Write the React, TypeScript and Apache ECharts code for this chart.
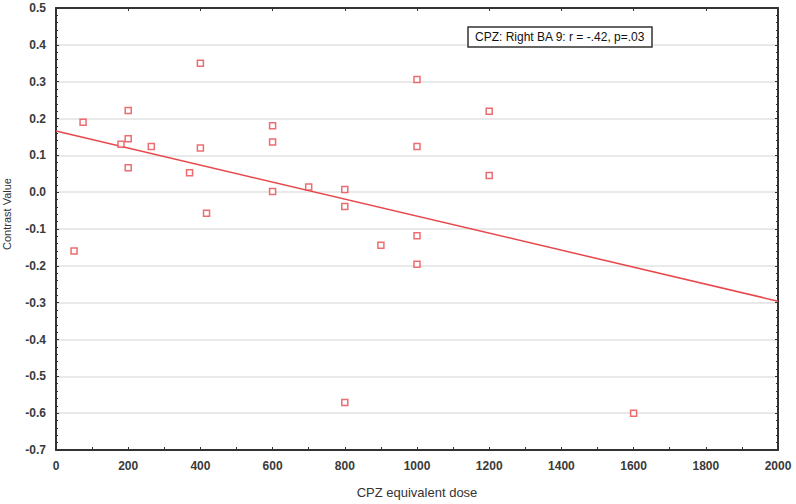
import React, { useEffect, useRef } from "react";
import * as echarts from "echarts";

const doseValues: number[] = [50, 75, 180, 200, 200, 200, 264, 370, 400, 400, 417, 600, 600, 600, 700, 800, 800, 800, 900, 1000, 1000, 1000, 1000, 1200, 1200, 1600];
const contrastValues: number[] = [-0.16, 0.19, 0.13, 0.222, 0.145, 0.066, 0.124, 0.053, 0.35, 0.12, -0.057, 0.18, 0.136, 0.002, 0.014, 0.007, -0.039, -0.571, -0.144, 0.306, 0.124, -0.118, -0.196, 0.22, 0.045, -0.6];
const fitDose: number[] = [0, 2000];
const fitContrast: number[] = [0.166, -0.296];
const annotationText = "CPZ: Right BA 9: r = -.42, p=.03";
const xTitle = "CPZ equivalent dose";
const yTitle = "Contrast Value";

const RED = "#e8474c";
const AXIS = "#333";
const FONT = "Liberation Sans, Arial, sans-serif";

export default function App() {
  const ref = useRef<HTMLDivElement>(null);
  useEffect(() => {
    if (!ref.current) return;
    const chart = echarts.init(ref.current, null, { renderer: "svg" });
    const points = doseValues.map((d, i) => [d, contrastValues[i]]);
    const fit = fitDose.map((d, i) => [d, fitContrast[i]]);
    const tickLabel = { fontSize: 12, fontWeight: "bold", color: "#3a3a3a", fontFamily: FONT };
    chart.setOption({
      animation: false,
      backgroundColor: "#fff",
      textStyle: { fontFamily: FONT },
      grid: { left: 56, right: 18, top: 8, bottom: 51, containLabel: false },
      title: {
        text: annotationText,
        left: 468,
        top: 27,
        padding: [4, 7],
        borderColor: AXIS,
        borderWidth: 1.5,
        backgroundColor: "#fff",
        textStyle: { fontSize: 12, fontWeight: "normal", color: "#111", fontFamily: FONT },
      },
      xAxis: [
        {
          type: "value",
          min: 0,
          max: 2000,
          interval: 200,
          position: "bottom",
          axisLine: { show: true, onZero: false, lineStyle: { color: AXIS, width: 2 } },
          axisTick: { show: true, inside: true, length: 3, lineStyle: { color: AXIS } },
          minorTick: { show: true, splitNumber: 2, length: 3, lineStyle: { color: AXIS } },
          axisLabel: { ...tickLabel, margin: 10, formatter: (v: number) => String(v) },
          splitLine: { show: false },
          name: xTitle,
          nameLocation: "middle",
          nameGap: 36,
          nameTextStyle: { fontSize: 13, color: "#333", fontFamily: FONT },
        },
        {
          type: "value",
          min: 0,
          max: 2000,
          interval: 200,
          position: "top",
          axisLine: { show: true, onZero: false, lineStyle: { color: AXIS, width: 2 } },
          axisTick: { show: true, inside: true, length: 3, lineStyle: { color: AXIS } },
          axisLabel: { show: false },
          splitLine: { show: false },
        },
      ],
      yAxis: [
        {
          type: "value",
          min: -0.7,
          max: 0.5,
          interval: 0.1,
          position: "left",
          axisLine: { show: true, onZero: false, lineStyle: { color: AXIS, width: 2 } },
          axisTick: { show: true, inside: true, length: 3, lineStyle: { color: AXIS } },
          minorTick: { show: true, splitNumber: 5, length: 2, lineStyle: { color: AXIS } },
          axisLabel: { ...tickLabel, margin: 10, formatter: (v: number) => v.toFixed(1) },
          splitLine: { show: true, lineStyle: { color: "#e2e2e2", width: 1.5 } },
        },
        {
          type: "value",
          min: -0.7,
          max: 0.5,
          interval: 0.1,
          position: "right",
          axisLine: { show: true, onZero: false, lineStyle: { color: AXIS, width: 2 } },
          axisTick: { show: true, inside: true, length: 3, lineStyle: { color: AXIS } },
          minorTick: { show: true, splitNumber: 5, length: 2, lineStyle: { color: AXIS } },
          axisLabel: { show: false },
          splitLine: { show: false },
        },
      ],
      graphic: [
        {
          type: "text",
          x: 7,
          y: 214,
          rotation: Math.PI / 2,
          style: {
            text: yTitle,
            fontSize: 11,
            fill: "#333",
            fontFamily: FONT,
            textAlign: "center",
            textVerticalAlign: "middle",
          },
        },
      ],
      series: [
        {
          type: "line",
          data: fit,
          showSymbol: false,
          symbol: "none",
          lineStyle: { color: RED, width: 1.5 },
          z: 2,
        },
        {
          type: "scatter",
          data: points,
          symbol: "rect",
          symbolSize: 6,
          itemStyle: { color: "#fff", borderColor: RED, borderWidth: 1.5 },
          z: 3,
        },
      ],
    });
    return () => chart.dispose();
  }, []);
  return <div ref={ref} style={{ width: 796, height: 504, position: "absolute", left: 0, top: 0 }} />;
}
